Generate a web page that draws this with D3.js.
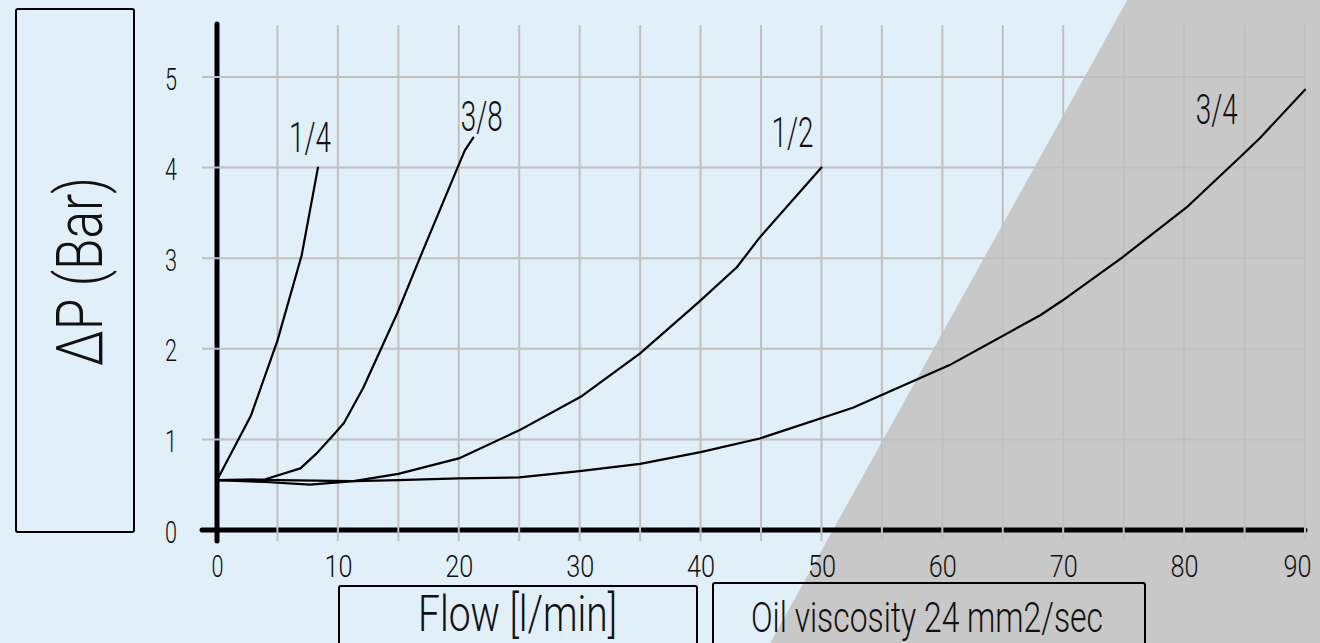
<!DOCTYPE html>
<html>
<head>
<meta charset="utf-8">
<script src="https://cdn.jsdelivr.net/npm/d3@7"></script>
<style>
  html, body { margin: 0; padding: 0; background: #e1eff9; }
  svg { display: block; }
  text { font-family: Roboto, "DejaVu Sans", sans-serif; font-weight: 300; fill: #111; }
</style>
</head>
<body>
<svg id="chart" width="1320" height="643"></svg>
<script>
// ---------------- data ----------------
const xTickValues = [0, 10, 20, 30, 40, 50, 60, 70, 80, 90];
const yTickValues = [0, 1, 2, 3, 4, 5];
const seriesNames = ["1/4", "3/8", "1/2", "3/4"];

const flow14 = [0, 2.8, 5, 7, 8.35];
const dp14   = [0.55, 1.26, 2.09, 3.03, 4.0];

const flow38 = [0, 4, 6.9, 8.2, 9.7, 10.5, 12.1, 14.9, 16.8, 19.9, 20.5, 21.2];
const dp38   = [0.55, 0.56, 0.68, 0.84, 1.06, 1.18, 1.57, 2.39, 3.01, 4.0, 4.19, 4.33];

const flow12 = [0, 4, 7.7, 11.3, 15, 20, 25, 30.2, 35, 39.8, 43, 44.9, 50];
const dp12   = [0.55, 0.53, 0.50, 0.54, 0.62, 0.79, 1.1, 1.48, 1.95, 2.51, 2.9, 3.23, 4.0];

const flow34 = [0, 5, 11.3, 15, 20, 25, 30, 35, 40, 44.9, 52.6, 60.6, 68.1, 69.9, 74.9, 80.2, 84.9, 86.3, 90];
const dp34   = [0.55, 0.55, 0.54, 0.55, 0.57, 0.58, 0.65, 0.73, 0.86, 1.01, 1.35, 1.82, 2.37, 2.53, 3.01, 3.56, 4.15, 4.33, 4.86];

// label anchors (data units: flow, ΔP at baseline)
const labelFlow = [7.7, 21.9, 47.6, 82.7];
const labelDp   = [4.17, 4.40, 4.23, 4.48];

const yTitle = "ΔP (Bar)";
const xTitle = "Flow [l/min]";
const note = "Oil viscosity 24 mm2/sec";

// ---------------- layout ----------------
const W = 1320, H = 643;
const x = d3.scaleLinear().domain([0, 90]).range([217, 1305]);
const y = d3.scaleLinear().domain([0, 5]).range([530, 77]);

const svg = d3.select("#chart");
svg.append("rect").attr("width", W).attr("height", H).attr("fill", "#e1eff9");

// gray region (decorative)
const gA = [x(50.95), y(0)], gB = [x(75.3), y(5.85)];
const slope = (gB[0] - gA[0]) / (gB[1] - gA[1]);
const xAt = py => gA[0] + (py - gA[1]) * slope;
svg.append("polygon")
  .attr("points", [[xAt(0), 0], [xAt(H), H], [W, H], [W, 0]].map(p => p.join(",")).join(" "))
  .attr("fill", "#c8c8c8");

// axes lines
svg.append("line").attr("x1", x(0)).attr("x2", x(0)).attr("y1", 24).attr("y2", y(0) + 11)
  .attr("stroke", "#000").attr("stroke-width", 5).attr("stroke-linecap", "round");
svg.append("line").attr("x1", x(0) - 15).attr("x2", x(90)).attr("y1", y(0)).attr("y2", y(0))
  .attr("stroke", "#000").attr("stroke-width", 5).attr("stroke-linecap", "round");

// grid
const grid = svg.append("g").attr("stroke", "#c0c0c0").attr("stroke-width", 2);
d3.range(5, 91, 5).forEach(v => {
  grid.append("line").attr("x1", x(v)).attr("x2", x(v)).attr("y1", 25).attr("y2", y(0) + 11);
});
d3.range(1, 6, 1).forEach(v => {
  grid.append("line").attr("x1", x(0) - 15).attr("x2", x(90)).attr("y1", y(v)).attr("y2", y(v));
});

// tick labels via d3 axes
const digitW = n => n * 12 + (n - 1) * 4;
const xAxis = d3.axisBottom(x).tickValues(xTickValues).tickSize(0).tickPadding(0).tickFormat(d3.format("d"));
const gx = svg.append("g").attr("transform", `translate(0,${y(0)})`).call(xAxis);
gx.select(".domain").remove();
gx.selectAll("text")
  .attr("dy", null).attr("y", 47)
  .attr("dx", d => d === 90 ? -8 : 0)
  .attr("font-size", 31).attr("font-family", "Roboto").attr("font-weight", 300).attr("fill", "#111")
  .attr("textLength", d => digitW(String(d).length)).attr("lengthAdjust", "spacingAndGlyphs");

const yAxis = d3.axisLeft(y).tickValues(yTickValues).tickSize(0).tickPadding(0).tickFormat(d3.format("d"));
const gy = svg.append("g").attr("transform", `translate(177,0)`).call(yAxis);
gy.select(".domain").remove();
gy.selectAll("text")
  .attr("dy", null).attr("x", 0).attr("y", 12)
  .attr("font-size", 31).attr("font-family", "Roboto").attr("font-weight", 300).attr("fill", "#111")
  .attr("text-anchor", "end")
  .attr("textLength", d => digitW(String(d).length)).attr("lengthAdjust", "spacingAndGlyphs");

// curves
const series = [
  { name: seriesNames[0], f: flow14, p: dp14 },
  { name: seriesNames[1], f: flow38, p: dp38 },
  { name: seriesNames[2], f: flow12, p: dp12 },
  { name: seriesNames[3], f: flow34, p: dp34 }
];
const line = d3.line().x(d => x(d[0])).y(d => y(d[1])).curve(d3.curveLinear);
svg.append("g").selectAll("path").data(series).join("path")
  .attr("d", s => line(s.f.map((v, i) => [v, s.p[i]])))
  .attr("fill", "none").attr("stroke", "#000").attr("stroke-width", 2.2)
  .attr("stroke-linejoin", "round").attr("stroke-linecap", "round");

// curve labels
svg.append("g").selectAll("text").data(series).join("text")
  .attr("x", (s, i) => x(labelFlow[i])).attr("y", (s, i) => y(labelDp[i]))
  .attr("text-anchor", "middle").attr("font-size", 42)
  .attr("textLength", 42).attr("lengthAdjust", "spacingAndGlyphs")
  .text(s => s.name);

// y title box
svg.append("rect").attr("x", 16).attr("y", 9).attr("width", 118).attr("height", 523).attr("rx", 2)
  .attr("fill", "none").attr("stroke", "#000").attr("stroke-width", 2);
svg.append("text")
  .attr("transform", "translate(102,271.5) rotate(-90)")
  .attr("text-anchor", "middle").attr("font-size", 65)
  .attr("textLength", 189).attr("lengthAdjust", "spacingAndGlyphs")
  .text(yTitle);

// x title box
svg.append("rect").attr("x", 339).attr("y", 586).attr("width", 358).attr("height", 80).attr("rx", 2)
  .attr("fill", "none").attr("stroke", "#000").attr("stroke-width", 2);
svg.append("text").attr("x", 517.5).attr("y", 631)
  .attr("text-anchor", "middle").attr("font-size", 50)
  .attr("textLength", 199).attr("lengthAdjust", "spacingAndGlyphs")
  .text(xTitle);

// note box
svg.append("rect").attr("x", 713).attr("y", 583).attr("width", 432).attr("height", 80).attr("rx", 2)
  .attr("fill", "none").attr("stroke", "#000").attr("stroke-width", 2);
svg.append("text").attr("x", 927).attr("y", 632)
  .attr("text-anchor", "middle").attr("font-size", 42)
  .attr("textLength", 352).attr("lengthAdjust", "spacingAndGlyphs")
  .text(note);
</script>
</body>
</html>
